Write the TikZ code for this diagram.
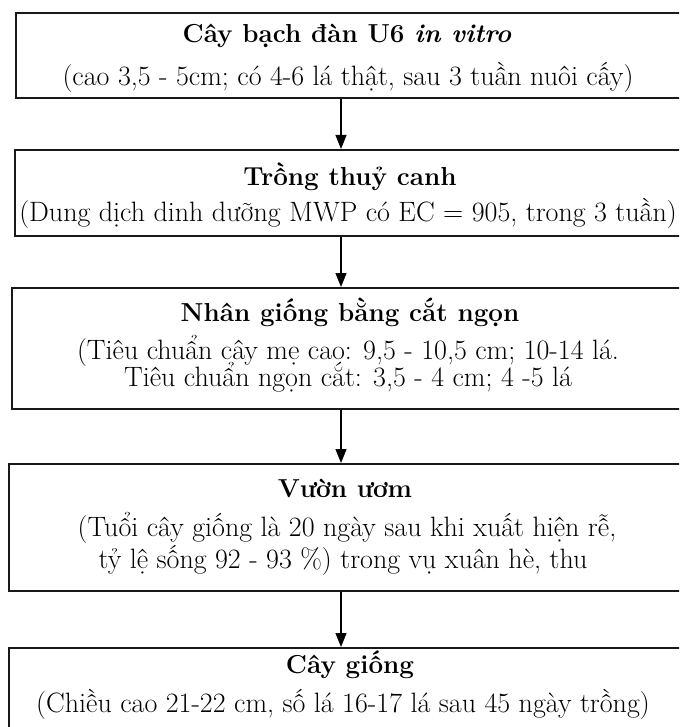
\documentclass[tikz,border=0pt]{standalone}
\usetikzlibrary{arrows.meta}
\begin{document}
\begin{tikzpicture}[x=1pt,y=-1pt,
  box/.style={draw=black!90, line width=1.7pt, rectangle, inner sep=0pt, anchor=north west, minimum width=675pt},
  ttl/.style={anchor=base, font=\fontsize{26}{30}\selectfont\bfseries, inner sep=0pt},
  sub/.style={anchor=base, font=\fontsize{28}{32}\selectfont, inner sep=0pt},
  arr/.style={line width=1.1pt, -{Triangle[width=11pt,length=14pt]}}]
\clip (0,0) rectangle (679,727);
% boxes
\node[box, minimum height=85pt]  (b1) at (15,12)  {};
\node[box, minimum height=86pt]  (b2) at (14,149) {};
\node[box, minimum height=121pt] (b3) at (11,287) {};
\node[box, minimum height=127pt] (b4) at (8,463)  {};
\node[box, minimum height=100pt] (b5) at (8,647)  {};
\coordinate (ax) at (341,0);
% texts
\node[ttl] (t1a) at (347,43) {Cây bạch đàn U6 \textit{in vitro}};
\node[sub] (t1b) at (348,86) {(cao 3,5 - 5cm; có 4-6 lá thật, sau 3 tuần nuôi cấy)};
\node[ttl] (t2a) at (350,186) {Trồng thuỷ canh};
\node[sub] (t2b) at (348,222) {(Dung dịch dinh dưỡng MWP có EC = 905, trong 3 tuần)};
\node[ttl] (t3a) at (350,321) {Nhân giống bằng cắt ngọn};
\node[sub] (t3b) at (348,359) {(Tiêu chuẩn cây mẹ cao: 9,5 - 10,5 cm; 10-14 lá.};
\node[sub] (t3c) at (348,386) {Tiêu chuẩn ngọn cắt: 3,5 - 4 cm; 4 -5 lá};
\node[ttl] (t4a) at (345,497) {Vườn ươm};
\node[sub] (t4b) at (347,536) {(Tuổi cây giống là 20 ngày sau khi xuất hiện rễ,};
\node[sub] (t4c) at (343,568) {tỷ lệ sống 92 - 93 \%) trong vụ xuân hè, thu};
\node[ttl] (t5a) at (350,673) {Cây giống};
\node[sub] (t5b) at (343,712) {(Chiều cao 21-22 cm, số lá 16-17 lá sau 45 ngày trồng)};
% arrows
\draw[arr] (b1.south -| ax) -- (b2.north -| ax);
\draw[arr] (b2.south -| ax) -- (b3.north -| ax);
\draw[arr] (b3.south -| ax) -- (b4.north -| ax);
\draw[arr] (b4.south -| ax) -- (b5.north -| ax);
\end{tikzpicture}
\end{document}
